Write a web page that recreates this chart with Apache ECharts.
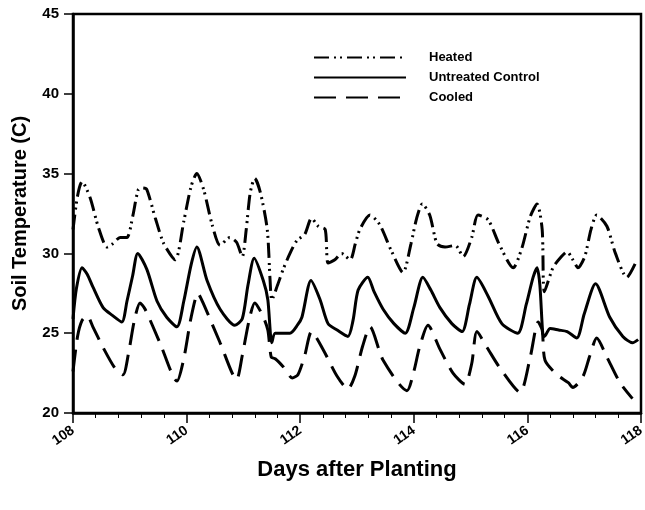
<!DOCTYPE html>
<html>
<head>
<meta charset="utf-8">
<script src="https://cdn.jsdelivr.net/npm/echarts@6/dist/echarts.min.js"></script>
<style>html,body{margin:0;padding:0;background:#fff}#c{width:645px;height:510px}</style>
</head>
<body>
<div id="c"></div>
<script>
const xTicks = [108, 110, 112, 114, 116, 118];
const yTicks = [20, 25, 30, 35, 40, 45];
const seriesNames = ['Heated', 'Untreated Control', 'Cooled'];

const heatedDay = [108.0,108.08,108.16,108.3,108.45,108.6,108.7,108.83,108.95,109.05,109.15,109.23,109.3,109.45,109.6,109.8,109.95,110.08,110.18,110.3,110.45,110.59,110.76,110.88,110.98,111.05,111.12,111.2,111.3,111.42,111.47,111.5,111.6,111.7,111.82,111.94,112.08,112.2,112.32,112.44,112.49,112.61,112.73,112.88,112.97,113.05,113.23,113.4,113.6,113.81,113.95,114.05,114.15,114.28,114.41,114.55,114.73,114.87,115.02,115.13,115.31,115.5,115.75,115.9,116.05,116.17,116.26,116.3,116.45,116.6,116.7,116.8,116.89,117.01,117.12,117.22,117.4,117.55,117.75,117.93];
const heatedTemp = [31.5,33.6,34.5,33.5,31.6,30.4,30.6,31.0,31.0,32.3,34.0,34.1,34.0,32.2,30.6,29.6,32.0,34.2,35.0,34.0,31.8,30.5,31.0,30.7,29.8,31.5,33.8,34.7,33.8,31.5,28.3,27.1,28.0,29.0,30.0,30.8,31.2,32.2,31.7,31.5,29.4,29.6,30.0,29.6,30.6,31.5,32.4,31.8,30.2,28.8,30.6,32.2,33.1,32.4,30.6,30.4,30.5,29.8,31.0,32.4,32.1,30.6,29.1,30.3,32.3,33.1,31.5,27.6,29.1,29.8,30.1,29.6,29.1,29.8,31.5,32.4,31.7,30.0,28.5,29.6];

const controlDay = [108.0,108.06,108.16,108.25,108.35,108.53,108.7,108.86,108.95,109.05,109.14,109.3,109.48,109.65,109.83,109.95,110.08,110.18,110.36,110.59,110.85,110.98,111.08,111.19,111.35,111.43,111.5,111.56,111.82,111.95,112.03,112.19,112.35,112.49,112.65,112.84,112.93,113.02,113.19,113.3,113.46,113.65,113.85,114.0,114.16,114.3,114.46,114.67,114.85,114.98,115.11,115.31,115.55,115.83,115.98,116.1,116.17,116.22,116.27,116.3,116.4,116.55,116.7,116.87,117.0,117.2,117.45,117.68,117.85,117.95];
const controlTemp = [25.9,27.8,29.1,28.7,27.9,26.6,26.1,25.7,27.0,28.6,30.0,29.0,27.0,26.0,25.4,27.0,29.3,30.4,28.3,26.5,25.5,25.9,28.0,29.7,28.3,27.1,24.4,25.0,25.0,25.5,26.0,28.3,27.1,25.6,25.2,24.8,25.8,27.7,28.5,27.6,26.5,25.6,25.0,26.6,28.5,27.7,26.6,25.6,25.1,26.8,28.5,27.3,25.6,25.0,26.8,28.5,29.1,28.0,25.0,24.8,25.3,25.2,25.1,24.7,26.2,28.1,26.0,24.8,24.4,24.6];

const cooledDay = [108.0,108.08,108.16,108.25,108.35,108.53,108.74,108.88,108.98,109.08,109.18,109.27,109.53,109.83,109.95,110.08,110.2,110.29,110.59,110.88,110.98,111.1,111.2,111.34,111.43,111.49,111.56,111.7,111.86,111.96,112.08,112.2,112.4,112.65,112.84,112.96,113.1,113.23,113.46,113.88,114.0,114.1,114.25,114.46,114.69,114.9,115.02,115.11,115.29,115.52,115.87,116.05,116.19,116.26,116.31,116.52,116.72,116.8,116.98,117.1,117.22,117.4,117.63,117.85];
const cooledTemp = [22.6,24.8,25.8,26.1,25.4,24.1,22.8,22.4,23.8,25.8,26.9,26.5,24.4,22.0,23.4,26.0,27.5,26.9,24.4,22.1,23.6,25.8,26.9,26.1,25.2,23.5,23.4,22.9,22.2,22.4,23.6,25.1,24.0,22.3,21.5,22.3,24.2,25.4,23.3,21.4,22.6,24.1,25.5,24.0,22.5,21.8,23.1,25.1,24.1,22.8,21.3,23.5,25.7,25.2,23.3,22.4,21.9,21.6,22.3,23.6,24.7,23.5,21.9,20.9];

function pairs(d, t) { return d.map((x, i) => [x, t[i]]); }

const FONT = 'Liberation Sans, Arial, Helvetica, sans-serif';
const chart = echarts.init(document.getElementById('c'), null, {renderer: 'canvas'});
chart.setOption({
  animation: false,
  backgroundColor: '#fff',
  grid: {left: 73, right: 4, top: 14, bottom: 97, outerBoundsMode: 'none', containLabel: false,
         show: true, borderColor: '#000', borderWidth: 2.5, backgroundColor: 'transparent'},
  legend: {
    orient: 'vertical', left: 313, top: 51, padding: 0,
    itemWidth: 92, itemHeight: 14, itemGap: 7,
    itemStyle: {opacity: 0},
    textStyle: {fontFamily: FONT, fontWeight: 'bold', fontSize: 13, color: '#000', padding: [0, 0, 0, 18]},
    data: seriesNames
  },
  xAxis: {
    type: 'value', min: xTicks[0], max: xTicks[xTicks.length - 1], interval: 2,
    name: 'Days after Planting', nameLocation: 'middle', nameGap: 46,
    nameTextStyle: {fontFamily: FONT, fontWeight: 'bold', fontSize: 22, color: '#000'},
    axisLine: {lineStyle: {color: '#000', width: 2.5}},
    axisTick: {show: true, length: 10, lineStyle: {color: '#000', width: 1.5}},
    minorTick: {show: true, splitNumber: 5, length: 5, lineStyle: {color: '#000', width: 1}},
    splitLine: {show: false},
    axisLabel: {rotate: 35, fontFamily: FONT, fontWeight: 'bold', fontSize: 14, color: '#000', margin: 16}
  },
  yAxis: {
    type: 'value', min: yTicks[0], max: yTicks[yTicks.length - 1], interval: 5,
    name: 'Soil Temperature (C)', nameLocation: 'middle', nameGap: 43,
    nameTextStyle: {fontFamily: FONT, fontWeight: 'bold', fontSize: 20, color: '#000'},
    axisLine: {lineStyle: {color: '#000', width: 2.5}},
    axisTick: {show: true, length: 9, lineStyle: {color: '#000', width: 1.5}},
    splitLine: {show: false},
    axisLabel: {fontFamily: FONT, fontWeight: 'bold', fontSize: 15, color: '#000', margin: 14}
  },
  series: [
    {name: seriesNames[0], type: 'line', symbol: 'none', smooth: 0.25, data: pairs(heatedDay, heatedTemp),
     lineStyle: {color: '#000', width: 3, type: [15, 5, 2, 4, 2, 5]}, itemStyle: {color: '#000'}},
    {name: seriesNames[1], type: 'line', symbol: 'none', smooth: 0.25, data: pairs(controlDay, controlTemp),
     lineStyle: {color: '#000', width: 3, type: 'solid'}, itemStyle: {color: '#000'}},
    {name: seriesNames[2], type: 'line', symbol: 'none', smooth: 0.25, data: pairs(cooledDay, cooledTemp),
     lineStyle: {color: '#000', width: 3, type: [22, 10]}, itemStyle: {color: '#000'}}
  ]
});
</script>
</body>
</html>
